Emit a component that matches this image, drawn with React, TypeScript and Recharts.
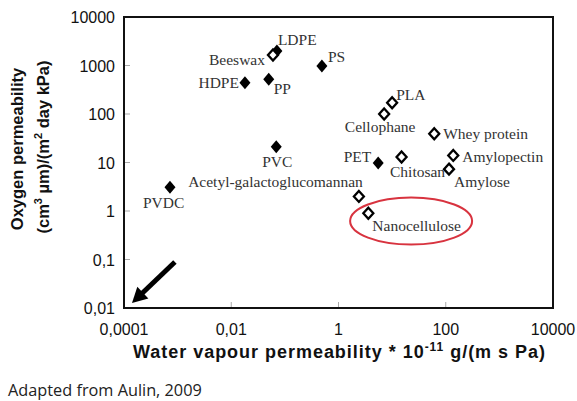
import React from 'react';
import {
  ScatterChart,
  Scatter,
  XAxis,
  YAxis,
  ReferenceDot,
  ReferenceLine,
} from 'recharts';

// conventional materials (filled diamonds)
const FILLED_NAMES = ['PVDC', 'HDPE', 'PP', 'LDPE', 'PVC', 'PS', 'PET'];
const FILLED_WVP = [0.00072, 0.018, 0.05, 0.071, 0.069, 0.49, 5.5];
const FILLED_OP = [3.1, 440, 520, 2000, 21, 980, 9.8];

// bio-based materials (open diamonds)
const HOLLOW_NAMES = [
  'Beeswax',
  'Cellophane',
  'PLA',
  'Chitosan',
  'Whey protein',
  'Amylose',
  'Amylopectin',
  'Acetyl-galactoglucomannan',
  'Nanocellulose',
];
const HOLLOW_WVP = [0.06, 7.1, 10, 15, 61, 115, 138, 2.4, 3.6];
const HOLLOW_OP = [1650, 100, 170, 13, 39, 7.3, 14, 2.0, 0.9];

const X_DOMAIN = [0.0001, 10000];
const Y_DOMAIN = [0.01, 10000];
const X_TICKS = [0.0001, 0.01, 1, 100, 10000];
const Y_TICKS = [0.01, 0.1, 1, 10, 100, 1000, 10000];
const X_TICK_LABELS = ['0,0001', '0,01', '1', '100', '10000'];
const Y_TICK_LABELS = ['0,01', '0,1', '1', '10', '100', '1000', '10000'];

// annotations (data space)
const HIGHLIGHT = { x: 22.6, y: 0.62 };
const ARROW_FROM = { x: 0.00089, y: 0.089 };
const ARROW_TO = { x: 0.000141, y: 0.0127 };

// label placement: [anchor, dx, dy]
const LABEL_POS: Record<string, [string, number, number]> = {
  PVDC: ['start', -27, 21],
  HDPE: ['end', -6, 5],
  PP: ['start', 5, 15],
  LDPE: ['start', 1, -6],
  PVC: ['middle', 1, 20],
  PS: ['start', 6, -4],
  PET: ['end', -7, -1],
  Beeswax: ['end', -8, 10],
  Cellophane: ['middle', -4, 18],
  PLA: ['start', 4, -3],
  Chitosan: ['middle', 16, 20],
  'Whey protein': ['start', 9, 5],
  Amylose: ['start', 5, 18],
  Amylopectin: ['start', 9, 7],
  'Acetyl-galactoglucomannan': ['end', 4, -9],
  Nanocellulose: ['start', 4, 18],
};

const filledData = FILLED_NAMES.map((name, i) => ({ name, x: FILLED_WVP[i], y: FILLED_OP[i] }));
const hollowData = HOLLOW_NAMES.map((name, i) => ({ name, x: HOLLOW_WVP[i], y: HOLLOW_OP[i] }));

const W = 577;
const H = 401;
const MARGIN = { top: 17, right: 24, left: 0, bottom: 0 };
const Y_AXIS_W = 124;
const X_AXIS_H = 93;

// plot box, as laid out by the chart from margins and axis sizes
const PLOT_LEFT = MARGIN.left + Y_AXIS_W;
const PLOT_TOP = MARGIN.top;
const PLOT_W = W - PLOT_LEFT - MARGIN.right;
const PLOT_H = H - PLOT_TOP - MARGIN.bottom - X_AXIS_H;

const SANS = '"Liberation Sans", Arial, sans-serif';
const SERIF = '"Liberation Serif", "Times New Roman", serif';

function pointLabel(name: string, cx: number, cy: number) {
  const [anchor, dx, dy] = LABEL_POS[name] || ['start', 6, 5];
  return (
    <text
      x={cx + dx}
      y={cy + dy}
      textAnchor={anchor as any}
      fontFamily={SERIF}
      fontSize={15.5}
      fill="#333"
    >
      {name}
    </text>
  );
}

const FilledDiamond = (props: any) => {
  const { cx, cy, payload } = props;
  const h = 6.5;
  const w = 5.5;
  return (
    <g>
      <polygon points={`${cx},${cy - h} ${cx + w},${cy} ${cx},${cy + h} ${cx - w},${cy}`} fill="#000" />
      {pointLabel(payload.name, cx, cy)}
    </g>
  );
};

const HollowDiamond = (props: any) => {
  const { cx, cy, payload } = props;
  const h = 5.5;
  const w = 5;
  return (
    <g>
      <polygon
        points={`${cx},${cy - h} ${cx + w},${cy} ${cx},${cy + h} ${cx - w},${cy}`}
        fill="#fff"
        stroke="#000"
        strokeWidth={2.3}
      />
      {pointLabel(payload.name, cx, cy)}
    </g>
  );
};

const XTick = (props: any) => {
  const { x, y, payload } = props;
  const i = X_TICKS.indexOf(payload.value);
  return (
    <g>
      <rect x={x - 0.5} y={y - 6} width={1} height={5} fill="#aaa" />
      <text x={x} y={y + 27} textAnchor="middle" fontFamily={SANS} fontSize={16} fill="#111">
        {X_TICK_LABELS[i]}
      </text>
    </g>
  );
};

const YTick = (props: any) => {
  const { x, y, payload } = props;
  const i = Y_TICKS.indexOf(payload.value);
  return (
    <g>
      <rect x={x + 1} y={y - 0.5} width={5} height={1} fill="#aaa" />
      <text x={x - 9} y={y + 6} textAnchor="end" fontFamily={SANS} fontSize={16} fill="#111">
        {Y_TICK_LABELS[i]}
      </text>
    </g>
  );
};

const YTitle = () => {
  const l = PLOT_LEFT;
  const t = PLOT_TOP;
  const r = PLOT_LEFT + PLOT_W;
  const b = PLOT_TOP + PLOT_H;
  return (
    <g>
      {/* frame as a filled ring */}
      <path
        d={`M${l - 1},${t - 1}H${r + 1}V${b + 1}H${l - 1}Z M${l + 1},${t + 1}V${b - 1}H${r - 1}V${t + 1}Z`}
        fill="#111"
        fillRule="evenodd"
      />
      <g fontFamily={SANS} fontWeight="bold" fontSize={16.5} fill="#111">
        <text x={23} y={149} textAnchor="middle" transform="rotate(-90 23 149)">
          Oxygen permeability
        </text>
        <text x={49} y={147} textAnchor="middle" transform="rotate(-90 49 147)">
          (cm
          <tspan dy={-7} fontSize={11}>3</tspan>
          <tspan dy={7}> µm)/(m</tspan>
          <tspan dy={-7} fontSize={11}>2</tspan>
          <tspan dy={7}> day kPa)</tspan>
        </text>
      </g>
    </g>
  );
};

const XTitle = () => (
  <text
    x={339}
    y={358}
    textAnchor="middle"
    fontFamily={SANS}
    fontWeight="bold"
    fontSize={18}
    fill="#111"
    textLength={412}
    lengthAdjust="spacing"
  >
    Water vapour permeability * 10
    <tspan dy={-7} fontSize={12}>-11</tspan>
    <tspan dy={7}> g/(m s Pa)</tspan>
  </text>
);

const Ellipse = (props: any) => (
  <ellipse cx={props.cx} cy={props.cy} rx={61} ry={23.5} fill="none" stroke="#d8333f" strokeWidth={2} />
);

const Arrow = (props: any) => {
  const { x1, y1, x2, y2 } = props;
  const dx = x2 - x1;
  const dy = y2 - y1;
  const len = Math.sqrt(dx * dx + dy * dy) || 1;
  const ux = dx / len;
  const uy = dy / len;
  const head = 15;
  const half = 8;
  const bx = x2 - ux * head;
  const by = y2 - uy * head;
  return (
    <g>
      <line x1={x1} y1={y1} x2={bx + ux * 2} y2={by + uy * 2} stroke="#000" strokeWidth={5} />
      <polygon
        points={`${x2},${y2} ${bx - uy * half},${by + ux * half} ${bx + uy * half},${by - ux * half}`}
        fill="#000"
      />
    </g>
  );
};

export default function App() {
  return (
    <div style={{ position: 'absolute', left: 0, top: 0, width: W, height: H, background: '#fff' }}>
      <ScatterChart width={W} height={H} margin={MARGIN}>
        <XAxis
          type="number"
          dataKey="x"
          scale="log"
          domain={X_DOMAIN}
          ticks={X_TICKS}
          axisLine={false}
          tickLine={false}
          tickSize={0}
          tickMargin={0}
          height={X_AXIS_H}
          tick={<XTick />}
          interval={0}
          label={<XTitle />}
        />
        <YAxis
          type="number"
          dataKey="y"
          scale="log"
          domain={Y_DOMAIN}
          ticks={Y_TICKS}
          axisLine={false}
          tickLine={false}
          tickSize={0}
          tickMargin={0}
          width={Y_AXIS_W}
          tick={<YTick />}
          interval={0}
          label={<YTitle />}
        />
        <ReferenceLine
          segment={[ARROW_FROM, ARROW_TO]}
          ifOverflow="visible"
          shape={<Arrow />}
        />
        <Scatter data={filledData} shape={<FilledDiamond />} isAnimationActive={false} />
        <Scatter data={hollowData} shape={<HollowDiamond />} isAnimationActive={false} />
        <ReferenceDot x={HIGHLIGHT.x} y={HIGHLIGHT.y} ifOverflow="visible" shape={<Ellipse />} />
      </ScatterChart>
      <div
        style={{
          position: 'absolute',
          left: PLOT_LEFT - 1,
          top: PLOT_TOP - 1,
          width: PLOT_W + 2,
          height: PLOT_H + 2,
          boxSizing: 'border-box',
          border: '2px solid #111',
          pointerEvents: 'none',
        }}
      />
      <div
        style={{
          position: 'absolute',
          left: 8,
          top: 380,
          fontFamily: '"Open Sans", sans-serif',
          fontSize: 16.3,
          color: '#222',
          lineHeight: '20px',
        }}
      >
        Adapted from Aulin, 2009
      </div>
    </div>
  );
}
